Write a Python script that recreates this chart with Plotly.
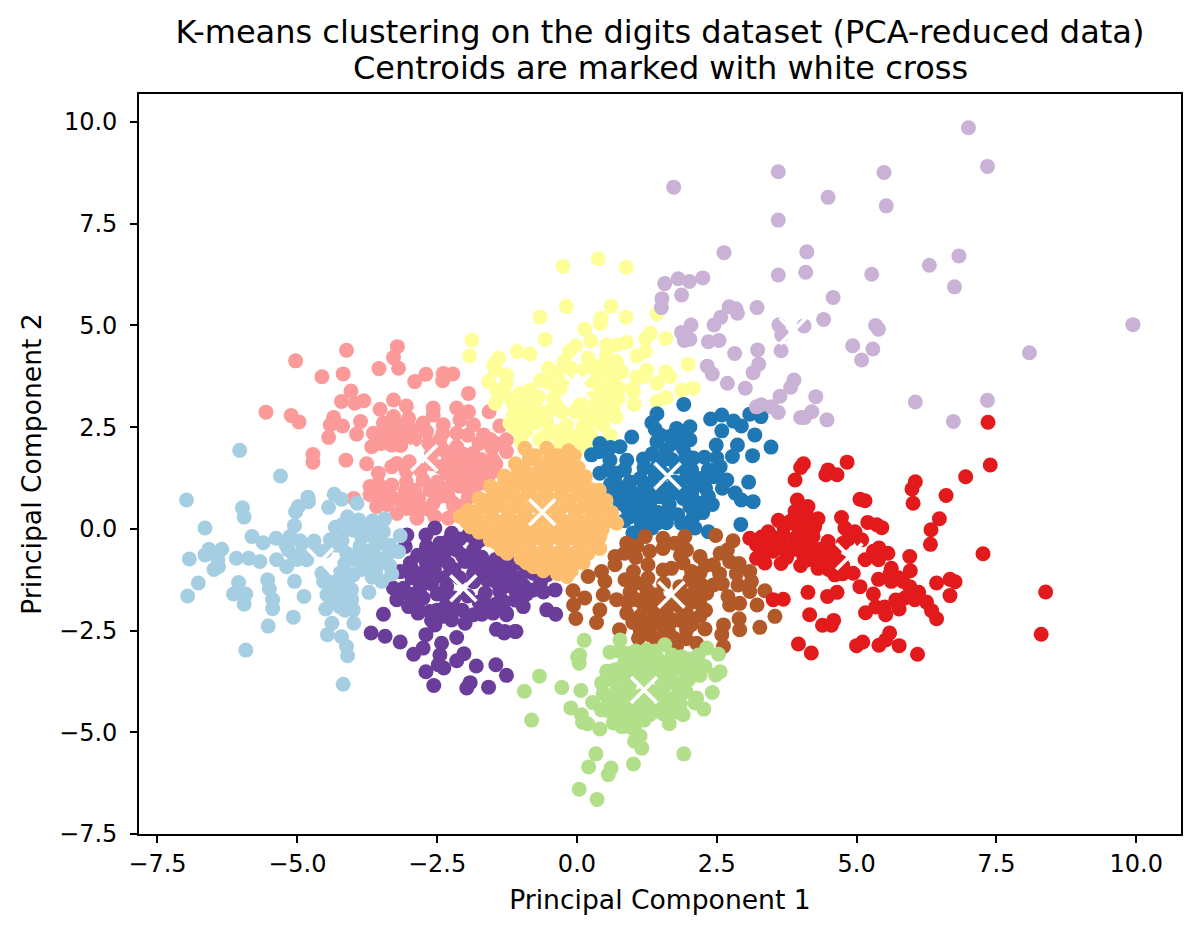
import plotly.graph_objects as go

title_line_1 = "K-means clustering on the digits dataset (PCA-reduced data)"
title_line_2 = "Centroids are marked with white cross"
x_label = "Principal Component 1"
y_label = "Principal Component 2"

cluster_pink = [(-4.12,4.39),(-3.21,4.48),(-3.28,4.21),(-5.03,4.13),(-3.54,3.94),(-3.19,3.95),(-4.56,3.74),(-4.18,3.81),(-2.70,3.80),(-2.90,3.62),(-2.39,3.82),(-2.22,3.81),(-2.40,3.64),(-1.94,3.33),(-4.04,3.39),(-4.21,3.13),(-3.97,3.09),(-3.81,3.15),(-3.28,3.17),(-3.52,2.94),(-3.05,3.02),(-5.56,2.87),(-5.11,2.79),(-4.97,2.63),(-4.35,2.74),(-4.41,2.56),(-4.19,2.53),(-3.87,2.64),(-3.94,2.33),(-4.44,2.25),(-4.72,1.83),(-4.72,1.64),(-4.13,1.69),(-3.76,1.60),(-2.57,2.97),(-2.15,2.97),(-1.94,2.88),(-1.57,2.88),(-3.01,2.72),(-3.28,2.76),(-3.46,2.6),(-3.19,2.55),(-3.64,2.35),(-3.40,2.27),(-3.10,2.23),(-3.67,2.02),(-3.31,2.06),(-2.57,2.8),(-2.39,2.56),(-2.69,2.39),(-2.45,2.19),(-2.09,2.68),(-1.85,2.56),(-1.67,2.31),(-1.38,2.53),(-1.26,2.19),(-1.26,1.9),(-1.52,1.98),(-2.15,2.02),(-1.85,1.86),(-2.15,1.7),(-1.79,1.53),(-1.5,1.41),(-2.33,1.37),(-2.03,1.2),(-1.73,1.12),(-2.27,1.04),(-1.94,0.79),(-2.45,1.53),(-3.22,1.61),(-3.31,1.53),(-3.05,1.41),(-3.55,1.37),(-3.70,1.04),(-3.31,1.08),(-3.43,1.0),(-3.7,0.84),(-3.07,0.92),(-2.63,0.96),(-3.28,0.75),(-2.83,0.75),(-2.57,0.63),(-3.58,0.55),(-3.99,0.75),(-3.22,0.38),(-2.86,0.26),(-2.54,0.30),(-2.30,0.26),(-2.21,0.63),(-1.85,0.87),(-2.63,0.47),(-2.0,1.5),(-1.7,1.7),(-1.95,1.0),(-2.2,1.3),(-1.5,1.7),(-2.3,0.8),(-2.9,0.45),(-3.0,0.65),(-2.45,0.8),(-1.65,1.3),(-2.05,1.85),(-2.3,1.75),(-1.45,2.1),
(-3.4,2.45),(-3.2,2.35),(-2.95,2.45),(-2.75,2.6),(-3.5,2.1),(-3.15,2.05),(-2.9,2.2),(-2.65,2.1),(-2.4,2.35),(-2.15,2.35),(-1.95,2.3),(-1.75,2.1),(-1.55,2.2),(-2.4,1.95),(-2.6,1.85),(-1.95,1.65),(-1.7,1.5),(-1.45,1.6),(-2.2,1.5),(-2.05,1.35),(-1.8,1.3),(-1.6,1.2),(-2.1,1.05),(-1.85,1.05),(-2.5,1.15),(-2.45,0.95),(-2.2,0.55),(-2.0,0.6),(-2.75,0.5),(-3.05,0.5),(-3.4,0.6),(-3.5,0.85),(-3.15,0.7),(-2.9,0.95),(-3.55,1.1),(-3.05,1.15),(-2.75,1.2),(-2.8,1.45),(-2.6,1.6),(-3.0,1.65)]

cluster_purple = [(-3.04,-0.15),(-3.07,-0.43),(-2.54,0.02),(-2.24,-0.11),(-1.94,-0.15),(-1.73,-0.27),(-2.69,-0.43),(-2.45,-0.35),(-2.15,-0.52),(-1.85,-0.52),(-2.98,-0.84),(-2.69,-0.84),(-2.39,-0.76),(-3.16,-1.05),(-3.28,-1.46),(-3.10,-1.46),(-3.22,-1.74),(-3.01,-1.91),(-2.81,-1.46),(-2.51,-1.17),(-2.33,-1.42),(-1.61,-0.93),(-1.32,-0.93),(-1.02,-0.84),(-0.78,-1.09),(-0.78,-1.5),(-1.08,-1.58),(-1.38,-1.54),(-1.64,-1.58),(-1.85,-1.09),(-1.61,-1.25),(-0.96,-1.91),(-1.26,-2.11),(-1.5,-2.07),(-1.85,-2.11),(-2.0,-2.32),(-2.24,-2.24),(-2.33,-1.83),(-2.63,-2.03),(-2.84,-2.07),(-2.54,-2.36),(-3.46,-2.10),(-3.68,-2.56),(-3.43,-2.64),(-3.16,-2.78),(-2.70,-2.60),(-2.15,-2.67),(-1.44,-2.47),(-1.30,-2.56),(-1.09,-2.52),(-2.75,-2.93),(-2.92,-3.08),(-2.42,-2.81),(-2.45,-3.10),(-2.02,-3.07),(-2.15,-3.24),(-2.48,-3.34),(-2.38,-3.42),(-2.70,-3.51),(-1.80,-3.37),(-1.45,-3.34),(-1.26,-3.6),(-2.56,-3.85),(-1.91,-3.78),(-1.97,-3.91),(-1.58,-3.89),(-0.54,-1.99),(-0.38,-2.1),(-0.39,-1.5),(-0.54,-1.13),(-0.66,-1.17),(-1.11,-2.52),(-1.29,-2.52),(-1.26,-2.07),(-2.2,-1.0),(-2.0,-0.8),(-1.7,-0.7),(-2.7,-1.2),(-2.95,-1.2),(-2.5,-1.6),(-2.2,-1.7),(-2.05,-2.0),(-1.35,-1.2),(-1.05,-1.2),(-1.6,-1.9),(-2.6,-0.6),(-1.9,-0.8),(-2.35,-0.55),(-0.95,-1.4),
(-2.7,-0.15),(-2.3,-0.3),(-2.1,-0.25),(-1.8,-0.35),(-2.85,-0.65),(-2.55,-0.75),(-2.3,-0.85),(-2.05,-0.65),(-1.75,-0.8),(-1.45,-0.75),(-1.25,-0.75),(-1.5,-1.05),(-1.2,-1.05),(-0.9,-1.05),(-2.95,-1.0),(-2.8,-1.1),(-2.55,-1.0),(-2.3,-1.15),(-2.1,-1.2),(-1.85,-1.3),(-1.7,-1.05),(-3.0,-1.6),(-2.75,-1.7),(-2.6,-1.35),(-2.35,-1.55),(-2.2,-1.95),(-1.95,-1.65),(-1.75,-1.8),(-1.45,-1.3),(-1.2,-1.4),(-1.3,-1.8),(-1.1,-1.75),(-0.9,-1.6),(-0.65,-1.3),(-0.6,-1.55),(-2.85,-1.85),(-2.5,-2.0),(-2.4,-2.15),(-2.6,-2.25),(-1.7,-2.1),(-1.45,-1.85)]

cluster_lightblue = [(-6.03,1.93),(-5.30,1.30),(-6.98,0.71),(-5.98,0.52),(-5.95,0.29),(-6.65,0.02),(-5.81,-0.19),(-5.61,-0.34),(-5.38,-0.23),(-6.35,-0.50),(-6.58,-0.50),(-6.65,-0.64),(-6.93,-0.74),(-6.42,-0.76),(-6.49,-1.0),(-6.41,-0.93),(-6.09,-0.72),(-5.87,-0.72),(-5.67,-0.80),(-6.77,-1.33),(-6.96,-1.65),(-6.05,-1.32),(-6.14,-1.60),(-5.92,-1.60),(-5.95,-1.85),(-5.53,-1.25),(-5.50,-1.47),(-5.44,-1.74),(-5.44,-1.96),(-5.52,-2.39),(-5.07,-2.17),(-5.92,-2.98),(-4.88,-1.66),(-5.05,-1.29),(-5.05,0.08),(-5.03,0.42),(-4.98,0.55),(-4.81,0.78),(-4.80,0.67),(-4.44,0.53),(-4.34,0.85),(-4.21,0.73),(-3.93,0.63),(-4.10,0.30),(-3.90,0.22),(-3.44,0.24),(-4.32,0.04),(-4.18,-0.07),(-4.0,-0.03),(-3.70,0.06),(-3.46,-0.07),(-3.16,-0.17),(-3.19,-0.56),(-3.40,-0.68),(-4.41,-0.27),(-4.95,-0.29),(-5.13,-0.19),(-5.16,-0.52),(-5.37,-0.76),(-5.19,-0.93),(-4.83,-0.76),(-4.65,-0.52),(-4.56,-1.09),(-4.24,-1.09),(-4.0,-1.13),(-4.12,-0.60),(-3.88,-0.43),(-3.64,-0.60),(-3.52,-0.35),(-4.0,-0.76),(-3.76,-0.80),(-3.52,-0.84),(-3.31,-1.11),(-3.66,-1.19),(-3.49,-1.29),(-3.72,-1.56),(-4.53,-1.29),(-4.27,-1.38),(-4.03,-1.50),(-4.47,-1.62),(-4.03,-1.74),(-4.24,-1.91),(-4.0,-1.99),(-4.49,-1.97),(-4.38,-2.32),(-3.99,-2.32),(-4.46,-2.60),(-4.21,-2.65),(-4.12,-2.89),(-4.10,-3.12),(-4.18,-3.82),(-3.85,-0.2),(-3.95,0.0),(-4.3,-0.4),(-5.0,-0.75),(-4.15,-1.65),
(-4.2,0.1),(-3.75,-0.15),(-3.6,-0.3),(-3.35,-0.4),(-4.2,-0.3),(-3.9,-0.6),(-3.75,-0.55),(-3.35,-0.9),(-4.15,-0.85),(-3.85,-1.0),(-4.5,-0.55),(-4.4,-1.3),(-4.35,-1.5),(-4.1,-1.35),(-4.3,-1.75),(-4.15,-2.0),(-4.9,-0.5),(-5.05,-0.7),(-4.7,-0.3),(-5.2,-0.4),(-3.65,0.2),(-3.55,0.0),(-3.75,-0.95),(-3.6,-1.05),(-4.1,-1.15)]

cluster_yellow = [(-0.25,6.45),(0.38,6.64),(0.88,6.43),(-0.66,5.21),(-0.19,5.47),(0.61,5.47),(0.43,5.18),(0.42,5.05),(0.88,5.21),(1.43,5.29),(-0.57,4.66),(0.14,4.91),(0.25,4.62),(-1.88,4.64),(-1.92,4.25),(-1.07,4.36),(-0.84,4.30),(-1.40,4.20),(-1.49,4.03),(-0.02,4.5),(-0.14,4.36),(-0.23,4.11),(0.53,4.52),(0.71,4.52),(0.89,4.58),(1.31,4.81),(1.23,4.68),(1.59,4.68),(1.22,4.36),(1.07,4.25),(1.99,4.05),(-1.46,3.91),(-1.26,3.78),(-1.58,3.62),(-1.26,3.58),(-1.43,3.41),(-1.46,3.09),(-0.51,3.95),(-0.48,3.58),(-0.42,3.21),(0.14,3.91),(0.41,3.99),(0.71,4.11),(0.80,3.86),(0.53,4.27),(0.56,3.82),(1.07,3.74),(1.19,3.74),(1.01,3.37),(1.02,3.06),(1.43,3.58),(1.59,3.86),(1.66,3.74),(1.60,3.23),(1.43,3.13),(1.87,3.41),(2.08,3.46),(-0.84,3.41),(-1.02,3.33),(-0.69,3.25),(-1.14,2.8),(-0.9,2.84),(-0.66,2.88),(-0.27,2.88),(-0.03,2.88),(0.29,2.88),(0.47,3.17),(0.74,3.21),(0.65,3.0),(0.41,3.5),(0.62,3.5),(-1.11,2.47),(-0.9,2.43),(-0.54,2.64),(-0.18,2.55),(0.11,2.51),(0.47,2.55),(0.6,2.29),(-0.66,2.19),(-0.3,2.19),(-0.0,2.27),(0.06,1.98),(-0.3,1.98),(-0.96,2.35),(-1.05,3.05),(-0.75,2.6),(0.25,2.3),(0.3,2.65),(-1.0,2.15),(0.25,3.2),(-0.2,3.7),(0.2,4.2),
(-1.0,2.6),(-0.8,2.65),(-1.2,2.6),(-0.4,2.4),(-0.55,2.3),(-0.15,2.3),(0.2,2.1),(-0.1,2.1),(-0.5,2.9),(-0.35,3.0),(0.05,3.05),(0.15,2.75),(0.45,2.8),(0.35,2.95),(0.7,2.75),(-0.75,3.0),(-0.95,3.2),(-0.3,3.45),(-0.65,3.65),(-0.35,3.85),(-0.1,3.95),(0.35,3.7),(0.6,3.25),(0.75,3.45),(0.25,3.65),(0.5,4.05),(0.3,4.0),(0.65,3.7),(0.45,3.35),(-1.15,3.1),(-1.3,3.3),(1.25,3.9),(1.0,3.45)]

cluster_blue = [(1.91,3.06),(1.43,2.83),(1.34,2.61),(1.78,2.47),(2.02,2.51),(2.39,2.7),(2.59,2.8),(2.80,2.65),(2.94,2.53),(3.09,2.82),(3.29,2.76),(2.59,2.41),(3.18,2.31),(2.87,2.06),(2.78,1.78),(3.14,1.8),(3.47,2.01),(0.98,2.26),(0.41,2.1),(0.77,2.02),(0.26,1.82),(1.43,2.14),(1.66,2.27),(2.02,2.19),(1.6,1.94),(1.9,1.98),(2.08,1.74),(2.28,1.76),(2.49,2.06),(2.56,1.53),(1.19,1.72),(0.89,1.69),(0.59,1.69),(0.41,1.37),(0.71,1.37),(1.13,1.24),(1.43,1.53),(1.78,1.53),(1.96,1.28),(2.2,1.24),(2.44,1.28),(2.68,1.2),(3.07,1.15),(2.83,0.88),(2.94,0.71),(3.15,0.67),(2.42,0.6),(2.2,0.63),(1.72,0.88),(1.48,0.79),(1.19,0.96),(2.08,1.0),(0.56,0.78),(0.83,0.96),(0.77,0.63),(1.13,0.55),(0.95,0.3),(1.31,0.3),(1.6,0.38),(1.87,0.14),(2.08,0.3),(2.11,0.02),(2.35,-0.07),(2.93,0.11),(1.04,-0.11),(1.34,0.02),(2.02,0.55),(1.0,-0.1),(1.55,1.0),(1.75,1.15),(1.35,1.15),(0.95,1.15),(1.3,0.6),(1.9,0.75),(2.3,1.0),(1.8,2.2),(1.55,1.7),(0.6,1.1),(2.5,1.75),(0.9,0.75),(1.15,0.15),(1.6,0.15),
(0.4,1.9),(0.6,2.0),(0.55,1.45),(0.85,1.45),(0.7,1.1),(0.95,0.95),(0.65,0.85),(0.9,0.5),(1.1,0.75),(1.3,0.85),(1.4,1.35),(1.2,1.5),(1.55,1.35),(1.7,1.7),(1.35,1.85),(1.5,2.3),(1.85,2.35),(1.95,1.8),(1.9,1.55),(2.05,1.45),(2.35,1.45),(2.5,1.3),(2.6,1.0),(2.35,0.8),(2.05,0.85),(1.85,1.0),(1.65,0.6),(1.45,0.4),(1.1,0.35),(1.8,0.35),(2.25,0.4),(2.0,0.15),(1.2,-0.05),(1.45,0.15),(0.85,0.2),(1.7,2.1),(1.4,2.45)]

cluster_orange = [(-0.93,1.98),(-0.54,1.98),(-0.15,1.92),(-1.1,1.6),(-0.85,1.72),(-0.5,1.68),(-0.2,1.62),(0.02,1.5),(-1.3,1.3),(-1.05,1.42),(-0.75,1.35),(-0.45,1.4),(-0.15,1.35),(0.15,1.28),(-1.55,1.05),(-1.3,1.12),(-1.0,1.1),(-0.7,1.08),(-0.42,1.12),(-0.12,1.08),(0.18,1.02),(0.4,0.95),(-1.75,0.75),(-1.48,0.85),(-1.18,0.82),(-0.88,0.85),(-0.58,0.82),(-0.28,0.85),(0.02,0.82),(0.32,0.78),(0.52,0.7),(-1.95,0.45),(-1.68,0.55),(-1.38,0.58),(-1.08,0.55),(-0.78,0.58),(-0.48,0.55),(-0.18,0.58),(0.12,0.55),(0.42,0.5),(0.62,0.4),(-2.09,0.3),(-1.82,0.25),(-1.52,0.3),(-1.22,0.3),(-0.92,0.3),(-0.62,0.3),(-0.32,0.3),(-0.02,0.3),(0.28,0.28),(0.55,0.2),(0.71,0.14),(-1.9,0.05),(-1.62,0.02),(-1.32,0.05),(-1.02,0.05),(-0.72,0.05),(-0.42,0.05),(-0.12,0.05),(0.18,0.02),(0.45,-0.02),(-1.55,-0.27),(-1.3,-0.2),(-1.0,-0.2),(-0.7,-0.22),(-0.4,-0.2),(-0.1,-0.22),(0.2,-0.2),(0.41,-0.19),(-1.35,-0.5),(-1.1,-0.45),(-0.85,-0.48),(-0.55,-0.45),(-0.25,-0.48),(0.05,-0.45),(0.41,-0.48),(-1.0,-0.72),(-0.75,-0.72),(-0.45,-0.72),(-0.15,-0.72),(0.11,-0.84),(-0.78,-0.93),(-0.5,-0.95),(-0.2,-0.95),(-0.18,-1.17),(-0.35,-1.1),
(-0.75,1.8),(-0.35,1.8),(-0.05,1.8),(-0.95,1.5),(-0.65,1.5),(-0.35,1.5),(-0.05,1.5),(-1.15,1.2),(-0.85,1.2),(-0.6,1.2),(-0.3,1.2),(0.0,1.2),(-1.4,0.95),(-1.15,0.95),(-0.85,0.95),(-0.55,0.95),(-0.27,0.95),(0.03,0.95),(0.28,0.95),(-1.6,0.7),(-1.33,0.7),(-1.03,0.7),(-0.73,0.7),(-0.43,0.7),(-0.13,0.7),(0.17,0.7),(0.4,0.7),(-1.8,0.42),(-1.53,0.42),(-1.23,0.42),(-0.93,0.42),(-0.63,0.42),(-0.33,0.42),(-0.03,0.42),(0.27,0.42),(0.55,0.42),(-1.97,0.17),(-1.67,0.17),(-1.37,0.17),(-1.07,0.17),(-0.77,0.17),(-0.47,0.17),(-0.17,0.17),(0.13,0.17),(0.35,0.17),(-1.75,-0.08),(-1.47,-0.08),(-1.17,-0.08),(-0.87,-0.08),(-0.57,-0.08),(-0.27,-0.08),(0.03,-0.08),(0.3,-0.08),(-1.45,-0.33),(-1.15,-0.33),(-0.85,-0.33),(-0.55,-0.33),(-0.25,-0.33),(0.05,-0.33),(0.3,-0.33),(-1.25,-0.6),(-0.95,-0.6),(-0.65,-0.6),(-0.35,-0.6),(-0.05,-0.6),(0.2,-0.6),(-0.9,-0.83),(-0.62,-0.83),(-0.32,-0.83),(-0.05,-0.83),(-0.6,-1.03),(-0.35,-1.03),(-0.1,-1.03)]

cluster_brown = [(2.48,-0.16),(2.79,-0.29),(2.69,-0.52),(0.89,-0.35),(1.07,-0.42),(1.22,-0.19),(1.54,-0.23),(1.54,-0.48),(1.93,-0.19),(1.96,-0.52),(0.68,-0.68),(0.68,-0.88),(0.2,-1.17),(0.44,-1.05),(0.5,-1.29),(-0.07,-1.52),(0.14,-1.7),(-0.06,-1.87),(-0.02,-2.2),(0.47,-1.62),(0.71,-1.74),(0.41,-1.99),(0.35,-2.3),(0.86,-1.25),(1.01,-1.05),(1.27,-0.88),(1.54,-1.01),(1.69,-0.97),(2.2,-0.68),(1.9,-0.84),(2.56,-0.6),(2.44,-0.88),(2.73,-0.8),(2.2,-1.09),(2.44,-1.38),(3.09,-1.05),(3.12,-1.29),(2.88,-1.38),(3.36,-1.52),(3.09,-1.54),(2.7,-1.66),(2.91,-1.83),(2.73,-1.87),(3.22,-1.87),(3.54,-2.15),(3.27,-2.42),(2.9,-2.21),(2.91,-2.48),(2.62,-2.36),(2.59,-2.6),(2.62,-2.89),(2.29,-2.46),(1.07,-1.33),(1.25,-1.5),(1.07,-1.74),(0.89,-2.07),(0.76,-2.48),(1.13,-2.15),(1.36,-1.99),(1.13,-2.48),(1.1,-2.69),(1.42,-2.32),(1.72,-2.24),(1.96,-2.07),(2.2,-1.83),(2.08,-1.58),(2.2,-2.15),(1.96,-2.48),(2.14,-2.81),(1.78,-2.89),(1.42,-2.73),(1.66,-2.6),(2.32,-1.58),(2.02,-1.25),(1.6,-2.0),(1.84,-1.91),(1.42,-1.62),(1.27,-1.21),(1.84,-1.42),
(1.05,-0.7),(1.3,-0.55),(1.75,-0.35),(0.85,-0.6),(1.85,-0.65),(1.55,-1.35),(1.4,-1.9),(1.2,-1.9),(1.25,-2.3),(1.0,-2.3),(0.9,-1.8),(0.95,-1.55),(1.5,-2.2),(1.65,-2.35),(1.85,-2.25),(1.55,-2.55),(1.75,-2.7),(1.3,-2.6),(1.95,-2.7),(2.05,-2.35),(2.3,-2.0),(2.15,-1.3),(2.25,-1.4),(2.05,-1.8),(1.95,-1.65),(2.05,-1.05),(2.3,-0.9),(2.6,-1.35),(2.55,-1.1),(2.85,-1.1),(2.9,-0.85),(1.5,-1.8),(1.75,-1.75),(1.25,-1.75)]

cluster_green = [(0.13,-2.74),(0.05,-3.1),(0.01,-3.15),(0.04,-3.3),(-0.67,-3.62),(-0.94,-3.99),(-0.27,-3.9),(0.07,-3.97),(-0.81,-4.7),(-0.11,-4.4),(0.08,-4.57),(0.1,-4.75),(0.19,-4.79),(0.28,-4.27),(0.41,-4.92),(0.44,-4.45),(0.44,-3.79),(0.53,-3.5),(0.68,-3.46),(0.59,-3.03),(0.77,-2.73),(0.89,-3.06),(0.47,-4.04),(0.71,-3.96),(0.65,-4.37),(0.89,-4.61),(0.65,-4.77),(0.8,-4.86),(1.03,-4.94),(1.13,-5.09),(1.03,-5.22),(1.16,-5.39),(0.34,-5.53),(0.21,-5.85),(0.61,-5.88),(0.56,-6.04),(1.01,-5.78),(1.91,-5.53),(0.04,-6.4),(0.36,-6.65),(1.65,-4.79),(1.9,-4.57),(2.27,-4.43),(2.14,-4.16),(2.11,-4.28),(2.42,-4.02),(2.48,-3.59),(2.56,-3.51),(2.53,-3.08),(2.32,-2.93),(2.17,-3.1),(2.29,-3.38),(2.08,-3.55),(1.87,-3.14),(1.57,-2.85),(1.25,-2.97),(1.0,-3.3),(1.3,-3.22),(1.6,-3.3),(1.87,-3.46),(1.07,-3.63),(1.36,-3.55),(1.66,-3.63),(1.9,-3.79),(0.95,-4.04),(1.24,-3.87),(1.54,-3.96),(1.78,-4.12),(1.13,-4.28),(1.42,-4.2),(1.66,-4.36),(1.48,-4.49),(1.3,-4.57),(1.07,-4.61),(0.83,-4.2),(0.68,-4.61),(0.89,-3.55),(0.85,-3.3),(0.9,-4.85),(1.25,-4.45),
(0.75,-3.0),(1.05,-3.0),(1.4,-3.0),(1.7,-3.1),(2.0,-3.2),(0.95,-3.15),(1.15,-3.15),(1.45,-3.2),(1.7,-3.35),(2.05,-3.35),(0.75,-3.45),(0.55,-3.7),(0.75,-3.75),(0.95,-3.8),(1.2,-3.65),(1.5,-3.7),(1.75,-3.8),(2.0,-3.7),(2.2,-3.6),(0.55,-4.15),(0.75,-4.3),(0.6,-4.5),(0.95,-4.35),(1.15,-4.1),(1.35,-4.0),(1.6,-4.15),(1.85,-4.3),(1.95,-4.0),(1.2,-4.7),(0.95,-4.7),(0.8,-4.55),(0.55,-4.3),(0.95,-3.45),(1.2,-3.4),(1.5,-3.45),(1.3,-4.3),(1.55,-4.55),(1.75,-4.5)]

cluster_red = [(7.35,2.62),(7.39,1.57),(6.95,1.28),(6.6,0.82),(6.05,1.16),(5.99,0.98),(6.01,0.63),(6.48,0.25),(6.33,-0.02),(6.32,-0.38),(7.26,-0.61),(8.38,-1.55),(8.3,-2.59),(6.43,-1.33),(6.67,-1.24),(6.76,-1.3),(6.67,-1.64),(5.95,-0.68),(5.96,-1.03),(4.05,1.6),(4.0,1.51),(3.9,1.2),(4.83,1.64),(4.49,1.45),(4.45,1.33),(4.65,1.33),(5.06,0.73),(5.15,0.69),(5.2,0.16),(5.36,0.1),(5.45,0.03),(4.73,0.28),(3.94,0.71),(4.13,0.55),(4.31,0.25),(3.9,0.43),(3.6,0.21),(3.81,0.18),(4.05,0.18),(3.42,-0.07),(3.09,-0.23),(3.21,-0.39),(3.39,-0.35),(3.21,-0.72),(3.36,-0.84),(3.65,-0.85),(4.0,-0.9),(3.69,-0.15),(3.9,-0.23),(3.9,-0.5),(4.22,-0.19),(4.22,-0.52),(4.13,-0.76),(4.31,-0.97),(4.46,-0.84),(4.49,-0.31),(4.79,0.02),(4.97,-0.07),(5.09,-0.27),(4.76,-0.35),(5.15,-0.76),(4.94,-1.09),(4.61,-1.13),(5.4,-0.47),(5.56,-0.6),(5.39,-0.76),(5.62,-0.97),(5.39,-1.24),(5.62,-1.29),(5.83,-1.29),(5.95,-1.42),(6.11,-1.56),(5.86,-1.7),(6.04,-1.74),(6.25,-1.8),(6.34,-2.01),(6.43,-2.21),(5.76,-1.97),(5.06,-1.42),(5.3,-1.6),(5.16,-2.06),(5.34,-1.92),(5.5,-1.92),(5.52,-2.11),(4.13,-1.56),(4.65,-1.56),(4.48,-1.66),(3.51,-1.74),(3.69,-1.73),(4.16,-2.11),(4.59,-2.25),(4.55,-2.37),(4.39,-2.37),(3.96,-2.83),(4.19,-3.05),(5.11,-2.78),(5.0,-2.87),(5.59,-2.56),(5.52,-2.73),(5.4,-2.86),(5.76,-2.87),(6.09,-3.08),(3.7,-0.45),(4.55,-0.65),(4.75,-0.9),
(3.3,-0.2),(3.5,-0.2),(3.55,-0.5),(3.3,-0.55),(3.65,-0.35),(4.05,-0.35),(4.05,-0.65),(3.95,0.05),(3.7,0.05),(4.1,0.35),(4.1,-0.05),(4.35,-0.5),(4.35,-0.75),(4.6,-0.55),(4.7,-0.8),(4.5,-1.0),(4.75,-1.1),(4.85,-0.25),(5.3,-0.55),(5.6,-1.1),(5.75,-1.2),(5.7,-1.75),(4.25,0.05),(3.5,-0.55),(3.75,-0.7)]

cluster_lilac = [(7.0,9.86),(7.34,8.91),(1.73,8.4),(3.6,8.78),(5.49,8.76),(4.49,8.15),(5.53,7.94),(3.6,7.59),(2.63,6.79),(4.11,6.81),(6.83,6.71),(6.3,6.48),(4.09,6.31),(3.6,6.24),(5.27,6.26),(6.75,5.95),(1.57,6.03),(1.81,6.15),(2.01,6.08),(2.25,6.17),(1.87,5.75),(1.52,5.66),(1.51,5.44),(4.58,5.69),(2.72,5.46),(2.84,5.41),(2.87,5.3),(2.57,5.2),(2.45,5.01),(3.22,5.44),(2.04,5.01),(1.87,4.83),(2.02,4.66),(1.92,4.63),(2.35,4.6),(2.54,4.63),(3.61,5.01),(3.66,4.77),(4.06,4.99),(4.41,5.15),(5.34,5.0),(5.39,4.91),(9.94,5.02),(8.09,4.33),(4.93,4.5),(5.29,4.42),(5.09,4.15),(3.23,4.4),(3.65,4.38),(2.82,4.31),(3.25,4.05),(3.15,3.84),(2.33,4.0),(2.42,3.81),(2.69,3.58),(3.01,3.46),(3.88,3.66),(3.82,3.48),(3.63,3.26),(4.27,3.25),(4.2,2.88),(4.0,2.74),(4.07,2.74),(4.47,2.68),(6.05,3.12),(7.34,3.16),(6.73,2.64),(3.3,3.05),(3.21,3.0),(3.48,3.0),(3.6,2.86)]

centroids = [(-4.59,-0.80),(-2.73,1.74),(-2.03,-1.46),(-0.62,0.41),(1.62,1.30),(0.0,3.49),(1.69,-1.62),(1.20,-3.96),(4.87,-0.68),(3.86,4.86)]

# draw order chosen to match overlaps in the reference
series = [
    ("pink", cluster_pink, "#fb9a99"),
    ("purple", cluster_purple, "#6a3d9a"),
    ("lightblue", cluster_lightblue, "#a6cee3"),
    ("yellow", cluster_yellow, "#ffff99"),
    ("blue", cluster_blue, "#1f78b4"),
    ("orange", cluster_orange, "#fdbf6f"),
    ("brown", cluster_brown, "#b15928"),
    ("green", cluster_green, "#b2df8a"),
    ("red", cluster_red, "#e31a1c"),
    ("lilac", cluster_lilac, "#cab2d6"),
]

fig = go.Figure()
for name, pts, color in series:
    fig.add_trace(go.Scatter(
        x=[p[0] for p in pts], y=[p[1] for p in pts], mode="markers", name=name,
        marker=dict(size=15, color=color, line=dict(width=0)), showlegend=False))

fig.add_trace(go.Scatter(
    x=[c[0] for c in centroids], y=[c[1] for c in centroids], mode="markers", name="centroids",
    marker=dict(symbol="x-thin-open", size=26, color="white", line=dict(width=3.6, color="white")),
    showlegend=False))

axis_common = dict(
    showgrid=False, zeroline=False, showline=True, mirror=True, linecolor="black", linewidth=1.6,
    ticks="outside", ticklen=7, tickwidth=1.6, tickcolor="black", tick0=-7.5, dtick=2.5,
    tickformat=".1f", tickfont=dict(family="DejaVu Sans", size=24, color="black"))

fig.update_layout(
    width=1200, height=934, autosize=False,
    margin=dict(l=139, r=19, t=94, b=100),
    paper_bgcolor="white", plot_bgcolor="white",
    font=dict(family="DejaVu Sans", color="black"),
    title=dict(
        text=title_line_1,
        font=dict(family="DejaVu Sans", size=32, color="black"),
        x=0.55, xanchor="center", xref="container", y=1 - 32 / 934, yanchor="middle", yref="container"),
    annotations=[dict(
        text=title_line_2, xref="paper", yref="paper", x=0.5, y=1.0358, xanchor="center", yanchor="middle",
        showarrow=False, font=dict(family="DejaVu Sans", size=32, color="black"))],
    xaxis=dict(axis_common, range=[-7.83, 10.8],
               title=dict(text=x_label, font=dict(family="DejaVu Sans", size=26.6), standoff=14)),
    yaxis=dict(axis_common, range=[-7.5, 10.69], ticklabelstandoff=8,
               title=dict(text=y_label, font=dict(family="DejaVu Sans", size=26.6), standoff=10)),
)

fig.write_html("out.html", config={"displayModeBar": False}, post_script="document.body.style.margin='0';")
